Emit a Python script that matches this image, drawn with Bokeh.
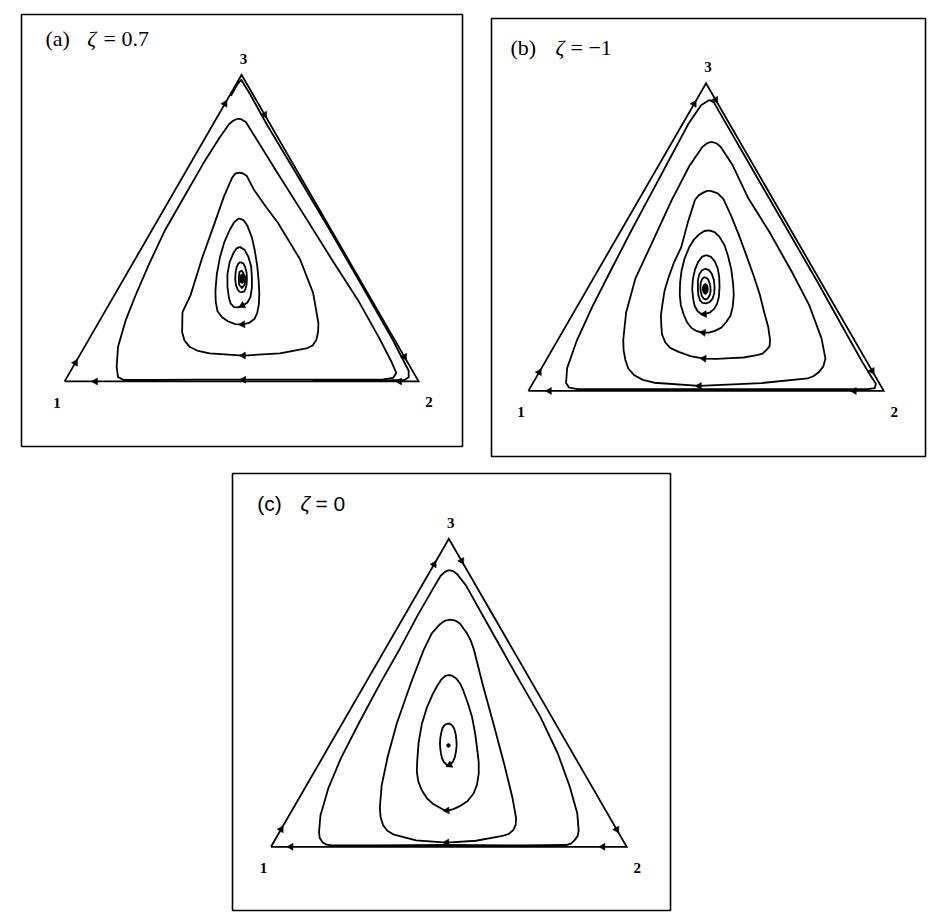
import math
from bokeh.plotting import figure
from bokeh.layouts import column, row, Spacer
from bokeh.models import Label
from bokeh.core.properties import value
from bokeh.embed import file_html
from bokeh.resources import INLINE

# Simplex corners (side 1): strategy 1, 2, 3
SQ3 = math.sqrt(3.0)
CORNER_X = [0.0, 1.0, 0.5]
CORNER_Y = [0.0, 0.0, SQ3 / 2]
CORNER_TEXT = ["1", "2", "3"]

# ---------------- (a) zeta = 0.7 : orbits in simplex coordinates ----------------
A_L3_X = [0.489, 0.500, 0.512, 0.541, 0.600, 0.677, 0.754, 0.832, 0.890, 0.924, 0.937, 0.928, 0.900, 0.854, 0.713,
          0.600, 0.506, 0.383, 0.242, 0.167, 0.151, 0.147, 0.151, 0.173, 0.200, 0.237, 0.282, 0.337, 0.392, 0.438,
          0.465, 0.477]
A_L3_Y = [0.742, 0.740, 0.733, 0.686, 0.591, 0.469, 0.346, 0.224, 0.120, 0.054, 0.024, 0.010, 0.006, 0.005, 0.005,
          0.005, 0.005, 0.005, 0.004, 0.004, 0.012, 0.041, 0.098, 0.174, 0.242, 0.328, 0.424, 0.520, 0.616, 0.689,
          0.727, 0.737]
A_L2_X = [0.491, 0.503, 0.515, 0.534, 0.566, 0.602, 0.665, 0.702, 0.717, 0.716, 0.711, 0.700, 0.683, 0.608, 0.505,
          0.410, 0.377, 0.354, 0.339, 0.332, 0.333, 0.356, 0.389, 0.423, 0.450, 0.473, 0.482]
A_L2_Y = [0.590, 0.588, 0.580, 0.543, 0.497, 0.449, 0.345, 0.250, 0.165, 0.139, 0.117, 0.101, 0.093, 0.079, 0.073,
          0.079, 0.086, 0.097, 0.115, 0.139, 0.196, 0.244, 0.350, 0.445, 0.522, 0.575, 0.587]
A_L1_X = [0.493, 0.506, 0.517, 0.529, 0.537, 0.544, 0.548, 0.550, 0.549, 0.544, 0.536, 0.521, 0.503, 0.482, 0.461,
          0.444, 0.432, 0.427, 0.426, 0.430, 0.439, 0.451, 0.466, 0.479]
A_L1_Y = [0.461, 0.455, 0.438, 0.407, 0.371, 0.328, 0.286, 0.250, 0.219, 0.193, 0.176, 0.165, 0.161, 0.162, 0.170,
          0.182, 0.198, 0.224, 0.255, 0.303, 0.351, 0.393, 0.427, 0.450]
A_L0B_X = [0.495, 0.509, 0.519, 0.527, 0.529, 0.529, 0.525, 0.516, 0.502, 0.490, 0.479, 0.469, 0.464, 0.460, 0.460,
           0.466, 0.476, 0.485]
A_L0B_Y = [0.380, 0.371, 0.352, 0.325, 0.295, 0.264, 0.238, 0.222, 0.214, 0.209, 0.210, 0.220, 0.237, 0.268, 0.303,
           0.336, 0.361, 0.375]
A_L0C_X = [0.497, 0.505, 0.510, 0.514, 0.515, 0.514, 0.511, 0.507, 0.502, 0.495, 0.490, 0.484, 0.482, 0.483, 0.486,
           0.491]
A_L0C_Y = [0.337, 0.333, 0.323, 0.308, 0.290, 0.273, 0.261, 0.254, 0.252, 0.253, 0.258, 0.271, 0.289, 0.308, 0.323,
           0.333]
A_L0D_X = [0.501, 0.510, 0.509, 0.501, 0.493, 0.492, 0.494]
A_L0D_Y = [0.313, 0.295, 0.274, 0.264, 0.273, 0.294, 0.309]
# outermost arm running along the boundary
A_HUG_X = [0.470, 0.490, 0.499, 0.524, 0.573, 0.645, 0.747, 0.847, 0.926, 0.958, 0.972, 0.972, 0.960, 0.900, 0.700]
A_HUG_Y = [0.807, 0.842, 0.852, 0.811, 0.723, 0.603, 0.431, 0.258, 0.119, 0.057, 0.030, 0.012, 0.004, 0.003, 0.003]
A_CENTRE = (0.501, 0.290)
A_EDGE_13 = [0.061, 0.906]
A_EDGE_32 = [0.130, 0.920]
A_EDGE_21 = [0.054, 0.913]

# ---------------- (b) zeta = -1 ----------------
B_K1_X = [0.509, 0.522, 0.545, 0.613, 0.713, 0.813, 0.891, 0.940, 0.962, 0.978, 0.975, 0.955, 0.800, 0.600, 0.400,
          0.200, 0.139, 0.115, 0.106, 0.109, 0.136, 0.180, 0.234, 0.288, 0.342, 0.396, 0.450, 0.486]
B_K1_Y = [0.819, 0.812, 0.772, 0.654, 0.481, 0.308, 0.168, 0.081, 0.045, 0.020, 0.008, 0.005, 0.005, 0.005, 0.005,
          0.005, 0.005, 0.009, 0.022, 0.064, 0.141, 0.237, 0.343, 0.448, 0.549, 0.650, 0.751, 0.804]
B_K2_X = [0.515, 0.529, 0.541, 0.575, 0.619, 0.678, 0.741, 0.790, 0.825, 0.836, 0.830, 0.818, 0.803, 0.786, 0.655,
          0.481, 0.354, 0.322, 0.297, 0.281, 0.273, 0.268, 0.267, 0.275, 0.301, 0.341, 0.403, 0.453, 0.489, 0.503]
B_K2_Y = [0.701, 0.697, 0.687, 0.635, 0.542, 0.448, 0.336, 0.242, 0.148, 0.091, 0.069, 0.053, 0.042, 0.035, 0.022,
          0.014, 0.023, 0.031, 0.045, 0.063, 0.087, 0.114, 0.144, 0.220, 0.316, 0.402, 0.536, 0.633, 0.686, 0.697]
B_K3_X = [0.513, 0.533, 0.549, 0.571, 0.593, 0.614, 0.634, 0.651, 0.664, 0.675, 0.680, 0.679, 0.671, 0.659, 0.643,
          0.606, 0.569, 0.531, 0.494, 0.456, 0.423, 0.399, 0.385, 0.376, 0.374, 0.373, 0.377, 0.383, 0.394, 0.410,
          0.430, 0.449, 0.469, 0.480, 0.492, 0.503]
B_K3_Y = [0.563, 0.556, 0.540, 0.492, 0.437, 0.380, 0.324, 0.272, 0.220, 0.180, 0.144, 0.126, 0.116, 0.105, 0.101,
          0.094, 0.092, 0.090, 0.091, 0.098, 0.110, 0.121, 0.137, 0.159, 0.185, 0.213, 0.242, 0.281, 0.318, 0.362,
          0.404, 0.475, 0.538, 0.551, 0.558, 0.563]
B_K4_X = [0.509, 0.524, 0.537, 0.552, 0.562, 0.571, 0.576, 0.578, 0.575, 0.569, 0.557, 0.543, 0.525, 0.508, 0.492,
          0.474, 0.459, 0.446, 0.437, 0.429, 0.426, 0.427, 0.431, 0.440, 0.453, 0.466, 0.481, 0.495]
B_K4_Y = [0.452, 0.447, 0.435, 0.410, 0.379, 0.342, 0.303, 0.270, 0.237, 0.212, 0.194, 0.178, 0.169, 0.164, 0.164,
          0.168, 0.177, 0.194, 0.215, 0.242, 0.271, 0.305, 0.338, 0.374, 0.405, 0.426, 0.441, 0.450]
B_K5_X = [0.501, 0.514, 0.525, 0.533, 0.537, 0.538, 0.536, 0.531, 0.523, 0.510, 0.495, 0.484, 0.476, 0.468, 0.464,
          0.461, 0.463, 0.469, 0.478, 0.489]
B_K5_Y = [0.382, 0.377, 0.364, 0.344, 0.321, 0.292, 0.264, 0.245, 0.231, 0.220, 0.216, 0.218, 0.225, 0.239, 0.258,
          0.286, 0.315, 0.342, 0.363, 0.378]
B_K6_X = [0.497, 0.508, 0.516, 0.522, 0.524, 0.523, 0.518, 0.510, 0.499, 0.490, 0.483, 0.478, 0.477, 0.477, 0.481,
          0.488]
B_K6_Y = [0.344, 0.340, 0.330, 0.312, 0.293, 0.274, 0.259, 0.250, 0.246, 0.248, 0.255, 0.271, 0.291, 0.311, 0.328,
          0.339]
B_K7_X = [0.498, 0.505, 0.509, 0.512, 0.513, 0.511, 0.506, 0.502, 0.497, 0.492, 0.488, 0.485, 0.484, 0.485, 0.488,
          0.492]
B_K7_Y = [0.320, 0.315, 0.306, 0.295, 0.283, 0.271, 0.262, 0.258, 0.258, 0.261, 0.268, 0.279, 0.292, 0.304, 0.313,
          0.318]
B_CENTRE = (0.498, 0.287)
B_EDGE_13 = [0.061, 0.933]
B_EDGE_32 = [0.054, 0.935]
B_EDGE_21 = [0.083, 0.941]

# ---------------- (c) zeta = 0 ----------------
C_C1_X = [0.500, 0.512, 0.523, 0.548, 0.582, 0.640, 0.698, 0.757, 0.806, 0.840, 0.861, 0.865, 0.862, 0.853, 0.843,
          0.830, 0.708, 0.494, 0.286, 0.173, 0.156, 0.145, 0.137, 0.135, 0.139, 0.161, 0.197, 0.251, 0.305, 0.359,
          0.413, 0.454, 0.477, 0.489]
C_C1_Y = [0.778, 0.775, 0.767, 0.735, 0.674, 0.571, 0.468, 0.366, 0.263, 0.169, 0.094, 0.046, 0.030, 0.018, 0.009,
          0.005, 0.004, 0.005, 0.004, 0.004, 0.006, 0.013, 0.025, 0.041, 0.088, 0.164, 0.250, 0.355, 0.456, 0.551,
          0.652, 0.723, 0.762, 0.773]
C_C2_X = [0.505, 0.518, 0.531, 0.550, 0.561, 0.570, 0.595, 0.626, 0.656, 0.679, 0.689, 0.688, 0.681, 0.668, 0.651,
          0.576, 0.494, 0.408, 0.346, 0.327, 0.315, 0.308, 0.306, 0.311, 0.328, 0.354, 0.394, 0.429, 0.452, 0.475,
          0.490]
C_C2_Y = [0.639, 0.636, 0.628, 0.602, 0.581, 0.556, 0.457, 0.344, 0.231, 0.137, 0.081, 0.062, 0.047, 0.036, 0.031,
          0.017, 0.012, 0.018, 0.034, 0.045, 0.061, 0.084, 0.110, 0.172, 0.253, 0.348, 0.462, 0.553, 0.600, 0.626,
          0.636]
C_C3_X = [0.498, 0.509, 0.520, 0.531, 0.540, 0.553, 0.565, 0.574, 0.580, 0.584, 0.584, 0.579, 0.569, 0.552, 0.532,
          0.513, 0.495, 0.485, 0.476, 0.455, 0.438, 0.424, 0.414, 0.410, 0.411, 0.415, 0.424, 0.438, 0.455, 0.467,
          0.478, 0.488]
C_C3_Y = [0.483, 0.481, 0.474, 0.460, 0.441, 0.405, 0.366, 0.318, 0.272, 0.238, 0.206, 0.174, 0.149, 0.128, 0.115,
          0.106, 0.102, 0.104, 0.109, 0.121, 0.137, 0.159, 0.184, 0.211, 0.240, 0.293, 0.345, 0.391, 0.430, 0.452,
          0.469, 0.479]
C_C4_X = [0.497, 0.503, 0.509, 0.515, 0.519, 0.521, 0.522, 0.520, 0.517, 0.511, 0.502, 0.494, 0.487, 0.481, 0.478,
          0.476, 0.475, 0.476, 0.479, 0.482, 0.487, 0.492]
C_C4_Y = [0.346, 0.346, 0.342, 0.332, 0.318, 0.302, 0.285, 0.268, 0.252, 0.239, 0.230, 0.231, 0.237, 0.248, 0.261,
          0.275, 0.289, 0.306, 0.322, 0.333, 0.341, 0.345]
C_CENTRE = (0.499, 0.285)
C_EDGE_13 = [0.057, 0.917]
C_EDGE_32 = [0.072, 0.944]
C_EDGE_21 = [0.067, 0.944]

INK = "black"
PAD = 2          # min_border of each panel, px
LW = 1.8


def closed(xs, ys):
    return list(xs) + [xs[0]], list(ys) + [ys[0]]


def edge_arrows(a, b, fractions):
    ax, ay, bx, by = CORNER_X[a], CORNER_Y[a], CORNER_X[b], CORNER_Y[b]
    ang = math.atan2(by - ay, bx - ax)
    return ([ax + f * (bx - ax) for f in fractions],
            [ay + f * (by - ay) for f in fractions],
            [ang] * len(fractions))


def orbit_arrow(xs, ys, i):
    n = len(xs)
    dx = xs[(i + 1) % n] - xs[i - 1]
    dy = ys[(i + 1) % n] - ys[i - 1]
    return xs[i], ys[i], math.atan2(dy, dx)


def make_panel(w, h, vx, vy, scale, loops, arms, centre, core, e13, e32, e21,
               title_parts, title_y, title_font, title_size):
    fw, fh = w - 2 * PAD, h - 2 * PAD
    x0 = (vx - PAD) / scale
    y1 = (vy - PAD) / scale
    xr = (-x0, fw / scale - x0)
    yr = (y1 - fh / scale, y1)
    p = figure(width=w, height=h, x_range=xr, y_range=yr, x_axis_type=None, y_axis_type=None,
               toolbar_location=None, output_backend="svg", min_border=PAD)
    p.outline_line_color = INK
    p.outline_line_width = 1.6
    p.background_fill_color = "white"
    p.border_fill_color = "white"

    # simplex boundary
    tx, ty = closed(CORNER_X, CORNER_Y)
    p.line(tx, ty, line_color=INK, line_width=LW, line_join="miter")

    ax, ay, aa = [], [], []
    for xs, ys, k in loops:
        cx, cy = closed(xs, ys)
        p.line(cx, cy, line_color=INK, line_width=LW, line_join="round")
        if k is not None:
            x, y, a = orbit_arrow(xs, ys, k)
            ax.append(x); ay.append(y); aa.append(a)
    for xs, ys in arms:
        p.line(xs, ys, line_color=INK, line_width=LW, line_join="round")

    for (a, b), fr in (((0, 2), e13), ((2, 1), e32), ((1, 0), e21)):
        xs, ys, angs = edge_arrows(a, b, fr)
        ax += xs; ay += ys; aa += angs
    p.scatter(ax, ay, marker="triangle", size=7, angle=[t - math.pi / 2 for t in aa],
              fill_color=INK, line_color=INK, line_width=0.5)

    # fixed point
    if core is not None:
        p.ellipse([centre[0]], [centre[1]], width=core[0], height=core[1],
                  fill_color=INK, line_color=INK)
    else:
        p.scatter([centre[0]], [centre[1]], size=3.5, marker="circle", fill_color=INK, line_color=INK)

    # corner labels
    p.text(CORNER_X, CORNER_Y, text=CORNER_TEXT, x_offset=[-7.5, 10.5, 2], y_offset=[21.5, 21, -16],
           text_align="center", text_baseline="middle", text_font=value("Liberation Serif"),
           text_font_style="bold", text_font_size="15px", text_color=INK)

    # panel title
    ty_data = yr[1] - (title_y - PAD) / scale
    for txt, px, style in title_parts:
        p.add_layout(Label(x=xr[0] + (px - PAD) / scale, y=ty_data, text=txt,
                           text_font=title_font, text_font_size=title_size,
                           text_font_style=style, text_baseline="middle", text_color=INK))
    return p


pa = make_panel(445, 436, 45.1, 368.9, 354.0,
                [(A_L3_X, A_L3_Y, 16), (A_L2_X, A_L2_Y, 14), (A_L1_X, A_L1_Y, 12),
                 (A_L0B_X, A_L0B_Y, 8), (A_L0C_X, A_L0C_Y, None), (A_L0D_X, A_L0D_Y, None)],
                [(A_HUG_X, A_HUG_Y)], A_CENTRE, (0.012, 0.026),
                A_EDGE_13, A_EDGE_32, A_EDGE_21,
                [("(a)", 26, "normal"), ("ζ", 67.7, "italic"), ("= 0.7", 84, "normal")],
                26.3, "Liberation Serif", "22px")

pb = make_panel(438, 442, 38.9, 374.4, 355.3,
                [(B_K1_X, B_K1_Y, None), (B_K2_X, B_K2_Y, 15), (B_K3_X, B_K3_Y, 18),
                 (B_K4_X, B_K4_Y, 14), (B_K5_X, B_K5_Y, 10), (B_K6_X, B_K6_Y, None), (B_K7_X, B_K7_Y, None)],
                [], B_CENTRE, (0.016, 0.03),
                B_EDGE_13, B_EDGE_32, B_EDGE_21,
                [("(b)", 21, "normal"), ("ζ", 66, "italic"), ("= −1", 81, "normal")],
                30.7, "Liberation Serif", "22px")

pc = make_panel(442, 441, 40.5, 375.3, 355.7,
                [(C_C1_X, C_C1_Y, None), (C_C2_X, C_C2_Y, 16), (C_C3_X, C_C3_Y, 16), (C_C4_X, C_C4_Y, 10)],
                [], C_CENTRE, None,
                C_EDGE_13, C_EDGE_32, C_EDGE_21,
                [("(c)", 26.7, "normal"), ("ζ", 70, "italic"), ("= 0", 85, "normal")],
                31.5, "Liberation Sans", "21px")

layout = column(
    Spacer(width=10, height=12),
    row(Spacer(width=19, height=10), pa, Spacer(width=25, height=10),
        column(Spacer(width=10, height=4), pb)),
    Spacer(width=10, height=13),
    row(Spacer(width=230, height=10), pc),
)

open("out.html", "w").write(file_html(layout, INLINE))
